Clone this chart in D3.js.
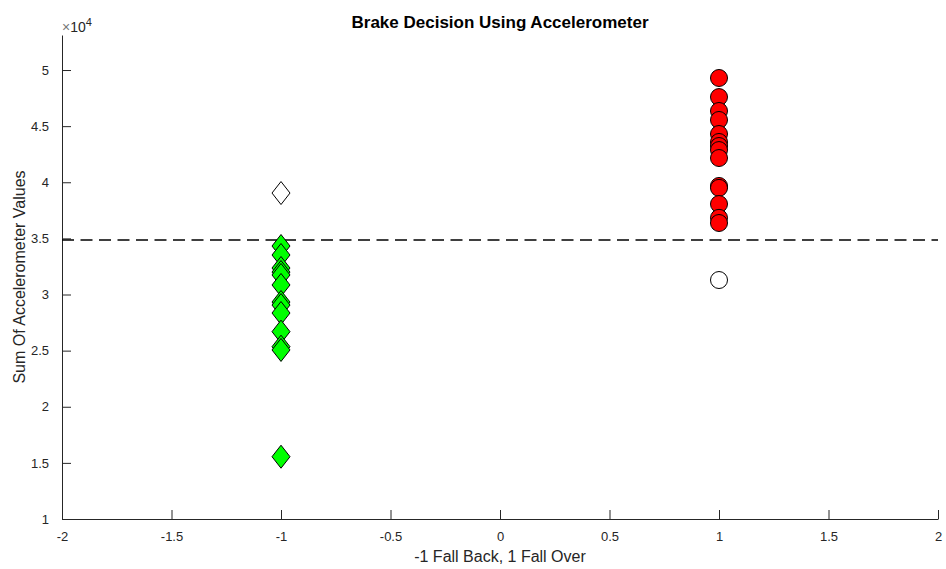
<!DOCTYPE html>
<html lang="en">
<head>
    <meta charset="UTF-8">
    <title>Brake Decision Using Accelerometer</title>
    <script src="https://d3js.org/d3.v7.min.js"></script>
    <style>
        body {
            margin: 0;
            background-color: #fff;
            font-family: "Liberation Sans", Arial, sans-serif;
        }
        .axis path, .axis line {
            stroke: #262626;
        }
        .axis text {
            fill: #262626;
            font-size: 13px;
            font-family: "Liberation Sans", Arial, sans-serif;
        }
    </style>
</head>
<body>
    <div id="chart"></div>

    <script>
        // Data
        const fallBackClass = -1;
        const fallBackValues = [34320, 33520, 32360, 32000, 31740, 30850, 29330, 29060, 28350, 26690, 25350, 25060, 15550];
        const fallBackMissed = [39040];

        const fallOverClass = 1;
        const fallOverValues = [49290, 47590, 46350, 45550, 44300, 43590, 43230, 42870, 42160, 39670, 39500, 38060, 36830, 36370];
        const fallOverMissed = [31290];

        const threshold = 34860;

        const xTicks = [-2, -1.5, -1, -0.5, 0, 0.5, 1, 1.5, 2];
        const yTicks = [10000, 15000, 20000, 25000, 30000, 35000, 40000, 45000, 50000];

        const width = 946, height = 569;
        const margin = { top: 35, right: 8, bottom: 50, left: 62 };
        const innerW = width - margin.left - margin.right;
        const innerH = height - margin.top - margin.bottom;

        const svg = d3.select('#chart')
            .append('svg')
            .attr('width', width)
            .attr('height', height);

        const g = svg.append('g')
            .attr('transform', `translate(${margin.left}, ${margin.top})`);

        // Scales
        const xScale = d3.scaleLinear().domain([-2, 2]).range([0, innerW]);
        const yScale = d3.scaleLinear().domain([10000, 53120]).range([innerH, 0]);

        // Axes (MATLAB style, ticks pointing inward)
        g.append('g')
            .attr('class', 'axis')
            .attr('transform', `translate(0, ${innerH})`)
            .call(d3.axisBottom(xScale).tickValues(xTicks).tickSizeInner(-9).tickSizeOuter(0)
                .tickPadding(13).tickFormat(d => String(d)));

        g.append('g')
            .attr('class', 'axis')
            .call(d3.axisLeft(yScale).tickValues(yTicks).tickSizeInner(-9).tickSizeOuter(0)
                .tickPadding(13).tickFormat(d => String(d / 10000)));

        // Threshold line
        g.append('line')
            .attr('x1', 0)
            .attr('x2', innerW)
            .attr('y1', yScale(threshold))
            .attr('y2', yScale(threshold))
            .attr('stroke', '#000')
            .attr('stroke-width', 1.5)
            .attr('stroke-dasharray', '12,6.5');

        // Diamond path
        const diamond = (cx, cy) => {
            const w = 9, h = 11.5;
            return `M${cx},${cy - h}L${cx + w},${cy}L${cx},${cy + h}L${cx - w},${cy}Z`;
        };

        // Fall back: diamonds
        g.selectAll('.miss-back')
            .data(fallBackMissed)
            .enter()
            .append('path')
            .attr('d', d => diamond(xScale(fallBackClass), yScale(d)))
            .attr('fill', '#fff')
            .attr('stroke', '#000')
            .attr('stroke-width', 1);

        g.selectAll('.back')
            .data(fallBackValues)
            .enter()
            .append('path')
            .attr('d', d => diamond(xScale(fallBackClass), yScale(d)))
            .attr('fill', '#00ff00')
            .attr('stroke', '#000')
            .attr('stroke-width', 1);

        // Fall over: circles
        g.selectAll('.miss-over')
            .data(fallOverMissed)
            .enter()
            .append('circle')
            .attr('cx', xScale(fallOverClass))
            .attr('cy', d => yScale(d))
            .attr('r', 8.5)
            .attr('fill', '#fff')
            .attr('stroke', '#000')
            .attr('stroke-width', 1);

        g.selectAll('.over')
            .data(fallOverValues)
            .enter()
            .append('circle')
            .attr('cx', xScale(fallOverClass))
            .attr('cy', d => yScale(d))
            .attr('r', 8.5)
            .attr('fill', '#ff0000')
            .attr('stroke', '#000')
            .attr('stroke-width', 1);

        // Title
        svg.append('text')
            .attr('x', margin.left + innerW / 2)
            .attr('y', 28)
            .attr('text-anchor', 'middle')
            .attr('font-weight', 'bold')
            .attr('font-size', '17px')
            .attr('fill', '#000')
            .text('Brake Decision Using Accelerometer');

        // Exponent label
        const expo = svg.append('text')
            .attr('x', margin.left)
            .attr('y', 32)
            .attr('font-size', '14px')
            .attr('fill', '#262626');
        expo.append('tspan').attr('fill', '#777').text('\u00d7');
        expo.append('tspan').text('10');
        expo.append('tspan').attr('dy', -6).attr('font-size', '11px').text('4');

        // Axis labels
        svg.append('text')
            .attr('x', margin.left + innerW / 2)
            .attr('y', 562)
            .attr('text-anchor', 'middle')
            .attr('font-size', '16px')
            .attr('fill', '#262626')
            .text('-1 Fall Back, 1 Fall Over');

        svg.append('text')
            .attr('transform', `translate(25, ${margin.top + innerH / 2}) rotate(-90)`)
            .attr('text-anchor', 'middle')
            .attr('font-size', '16px')
            .attr('fill', '#262626')
            .text('Sum Of Accelerometer Values');
    </script>
</body>
</html>
